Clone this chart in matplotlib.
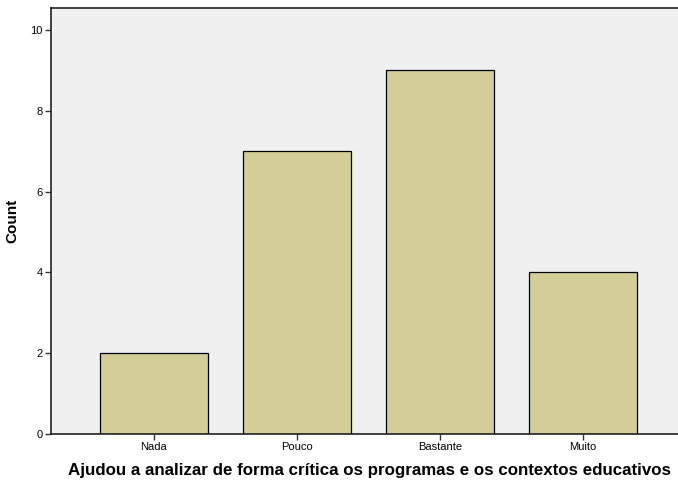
import matplotlib
matplotlib.use("Agg")
import matplotlib.pyplot as plt

categories = ["Nada", "Pouco", "Bastante", "Muito"]
counts = [2, 7, 9, 4]
yticks = [0, 2, 4, 6, 8, 10]

plt.rcParams['font.family'] = ['Liberation Sans', 'DejaVu Sans']

fig = plt.figure(figsize=(6.78, 4.87), dpi=100)
ax = fig.add_axes([51/678, 53/487, 635/678, 426/487])
ax.set_facecolor('#F0F0F0')
x = list(range(len(categories)))
ax.bar(x, counts, width=0.75, color='#D3CE98', edgecolor='black', linewidth=0.9, zorder=2)
ax.set_xlim(-0.72, 3.72)
ax.set_ylim(0, 10.545)
ax.set_xticks(x)
ax.set_xticklabels(categories, fontsize=8)
ax.set_yticks(yticks)
ax.set_yticklabels([str(v) for v in yticks], fontsize=8)
ax.tick_params(axis='both', direction='out', length=4, width=1, color='#333333', pad=2)
for s in ['left', 'bottom', 'top']:
    ax.spines[s].set_linewidth(1.2)
    ax.spines[s].set_color('#222222')
ax.spines['right'].set_visible(False)
ax.set_ylabel('Count', fontsize=11, fontweight='bold', labelpad=8)
ax.set_xlabel('Ajudou a analizar de forma crítica os programas e os contextos educativos',
              fontsize=12.15, fontweight='bold', labelpad=8)
ax.xaxis.label.set_x((369 - 51) / 635)
fig.savefig('out.png', dpi=100)
